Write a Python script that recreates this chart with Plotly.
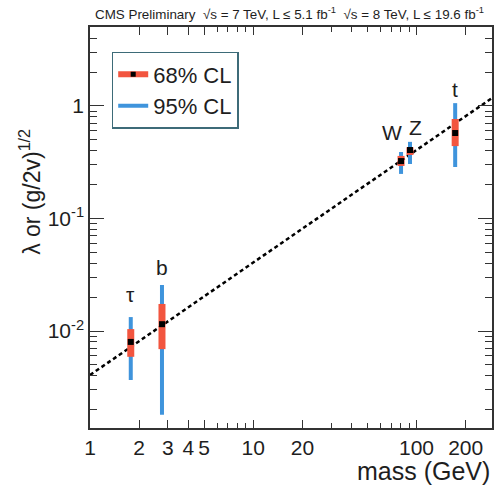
import numpy as np
import plotly.graph_objects as go

# ---- data ----
particles = ["τ", "b", "W", "Z", "t"]
mass = [1.777, 2.76, 80.4, 91.2, 172.5]
coupling = [0.0080, 0.0115, 0.324, 0.406, 0.575]
cl68_hi = [0.0104, 0.0174, 0.360, 0.430, 0.766]
cl68_lo = [0.0059, 0.0069, 0.293, 0.367, 0.440]
cl95_hi = [0.0133, 0.0257, 0.390, 0.480, 1.060]
cl95_lo = [0.00367, 0.0018, 0.249, 0.305, 0.287]
sm_mass = [1.0, 300.0]
sm_coupling = [0.00406, 1.218]

x_tickvals = [1, 2, 3, 4, 5, 10, 20, 100, 200]
x_ticktext = ["1", "2", "3", "4", "5", "10", "20", "100", "200"]
y_tickvals = [0.01, 0.1, 1]
y_ticktext = ["10<sup>-2</sup>", "10<sup>-1</sup>", "1"]

# label positions (data coords)
label_x = [1.777, 2.76, 70.4, 98.6, 172.5]
label_y = [0.0209, 0.037, 0.587, 0.65, 1.39]

FONT = "Liberation Sans, Arial, sans-serif"
RED = "#f2553f"
BLUE = "#3f94dc"
TXT = "#1e1e1e"

def err(hi, lo, c):
    return [h - v for h, v in zip(hi, c)], [v - l for l, v in zip(lo, c)]

e95p, e95m = err(cl95_hi, cl95_lo, coupling)
e68p, e68m = err(cl68_hi, cl68_lo, coupling)

fig = go.Figure()
fig.add_trace(go.Scatter(x=sm_mass, y=sm_coupling, mode="lines",
                         line=dict(color="black", width=2.5, dash="4px,3px"),
                         showlegend=False, hoverinfo="skip"))
fig.add_trace(go.Scatter(x=mass, y=coupling, mode="markers",
                         marker=dict(size=1, color="rgba(0,0,0,0)"),
                         error_y=dict(type="data", symmetric=False, array=e95p,
                                      arrayminus=e95m, color=BLUE, thickness=4, width=0),
                         showlegend=False))
fig.add_trace(go.Scatter(x=mass, y=coupling, mode="markers",
                         marker=dict(size=6, color="black", symbol="square"),
                         error_y=dict(type="data", symmetric=False, array=e68p,
                                      arrayminus=e68m, color=RED, thickness=7, width=0),
                         showlegend=False))
# legend entries
fig.add_trace(go.Scatter(x=[None], y=[None], mode="lines+markers", name="68% CL",
                         line=dict(color=RED, width=6),
                         marker=dict(size=5, color="black", symbol="square")))
fig.add_trace(go.Scatter(x=[None], y=[None], mode="lines", name="95% CL",
                         line=dict(color=BLUE, width=4)))

axis_common = dict(type="log", showgrid=False, zeroline=False, showline=True,
                   linecolor="#333", linewidth=1.5, mirror="allticks",
                   ticks="inside", tickcolor="#333", tickwidth=1.2,
                   tickfont=dict(family=FONT, size=21, color=TXT))

y_minor = [m * 10.0 ** e for e in (-3, -2, -1, 0) for m in range(2, 10)]
x_minor = [m * 10.0 ** e for e in (0, 1, 2) for m in range(2, 10)]

fig.update_xaxes(range=[0, np.log10(290)], tickmode="array", tickvals=x_tickvals,
                 ticktext=x_ticktext, ticklen=8,
                 minor=dict(tickmode="array", tickvals=x_minor, ticks="inside",
                            ticklen=5, tickcolor="#333", showgrid=False),
                 **axis_common)
fig.update_yaxes(range=[-2.862, 0.702], tickmode="array", tickvals=y_tickvals,
                 ticktext=y_ticktext, ticklen=14,
                 minor=dict(tickmode="array", tickvals=y_minor, ticks="inside",
                            ticklen=7, tickcolor="#333", showgrid=False),
                 **axis_common)

annotations = []
for p, lx, ly in zip(particles, label_x, label_y):
    annotations.append(dict(x=np.log10(lx), y=np.log10(ly), xref="x", yref="y",
                            text=p, showarrow=False,
                            font=dict(family=FONT, size=21, color=TXT)))
annotations.append(dict(x=0.007, y=1.0, xref="paper", yref="paper", xanchor="left",
                        yanchor="bottom", yshift=3, showarrow=False,
                        text="CMS Preliminary  √s = 7 TeV, L ≤ 5.1 fb<sup>-1</sup>  √s = 8 TeV, L ≤ 19.6 fb<sup>-1</sup>",
                        font=dict(family=FONT, size=13.4, color=TXT)))
annotations.append(dict(x=-0.19, y=0.75, xref="paper", yref="paper", textangle=-90,
                        showarrow=False, text="λ or (g/2v)<sup>1/2</sup>",
                        font=dict(family=FONT, size=23, color=TXT)))
annotations.append(dict(x=1.0, y=-0.108, xref="paper", yref="paper", xanchor="right",
                        yanchor="middle", showarrow=False, text="mass (GeV)",
                        font=dict(family=FONT, size=25, color=TXT)))

fig.update_layout(width=494, height=486, margin=dict(l=90, r=0, t=27, b=58),
                  paper_bgcolor="white", plot_bgcolor="white",
                  annotations=annotations,
                  legend=dict(x=0.054, y=0.938, xanchor="left", yanchor="top",
                              bgcolor="white", bordercolor="#3d6b78", borderwidth=1.5,
                              font=dict(family=FONT, size=22, color=TXT),
                              tracegroupgap=2))

fig.write_html("out.html", config={"displayModeBar": False},
               post_script="document.body.style.margin='0';")
